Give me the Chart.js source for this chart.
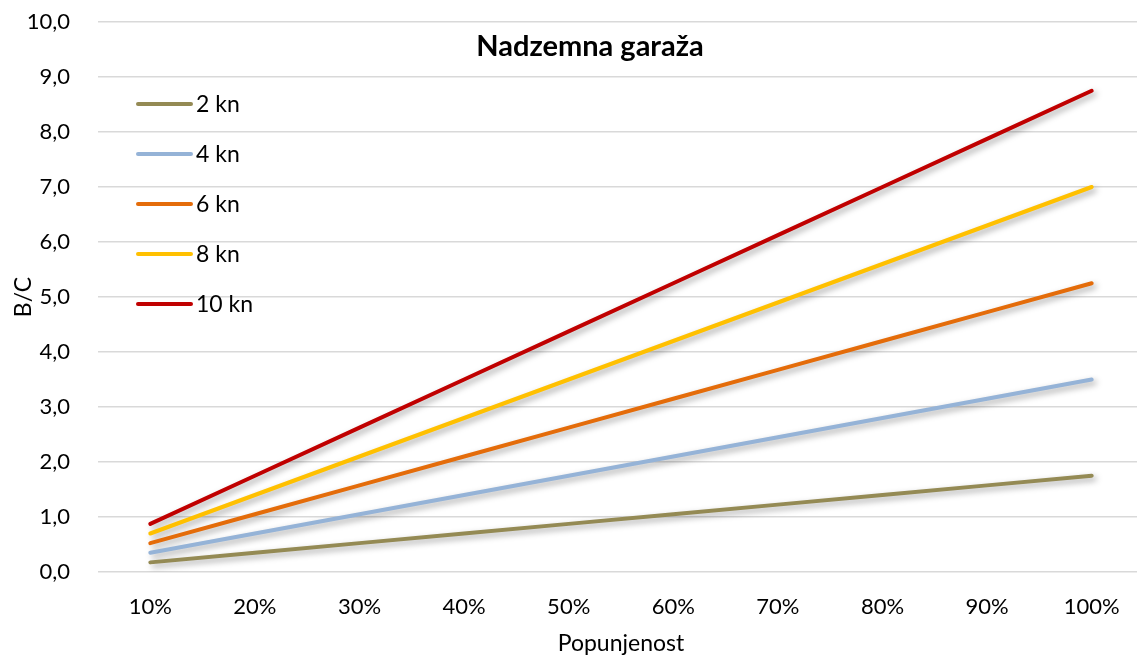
<!DOCTYPE html>
<html>
<head>
<meta charset="utf-8">
<script src="https://cdn.jsdelivr.net/npm/chart.js@4.4.1/dist/chart.umd.min.js"></script>
<style>
  html, body { margin: 0; padding: 0; background: #fff; overflow: hidden; }
  #wrap { width: 1145px; height: 657px; position: relative; }
</style>
</head>
<body>
<div id="wrap"><canvas id="c" width="1145" height="657"></canvas></div>
<script>
const categories = ['10%', '20%', '30%', '40%', '50%', '60%', '70%', '80%', '90%', '100%'];
const seriesNames = ['2 kn', '4 kn', '6 kn', '8 kn', '10 kn'];
const s2kn  = [0.175, 0.35, 0.525, 0.70, 0.875, 1.05, 1.225, 1.40, 1.575, 1.75];
const s4kn  = [0.35, 0.70, 1.05, 1.40, 1.75, 2.10, 2.45, 2.80, 3.15, 3.50];
const s6kn  = [0.525, 1.05, 1.575, 2.10, 2.625, 3.15, 3.675, 4.20, 4.725, 5.25];
const s8kn  = [0.70, 1.40, 2.10, 2.80, 3.50, 4.20, 4.90, 5.60, 6.30, 7.00];
const s10kn = [0.875, 1.75, 2.625, 3.50, 4.375, 5.25, 6.125, 7.00, 7.875, 8.75];
const seriesColors = ['#948A54', '#95B3D7', '#E46C0A', '#FFC000', '#C00000'];
const chartTitle = 'Nadzemna garaža';
const xTitle = 'Popunjenost';
const yTitle = 'B/C';

const FONT = 'Lato, "Open Sans", sans-serif';
const allSeries = [s2kn, s4kn, s6kn, s8kn, s10kn];

const shadowPlugin = {
  id: 'shadow',
  beforeDatasetDraw(chart) {
    const ctx = chart.ctx;
    ctx.save();
    ctx.shadowColor = 'rgba(0,0,0,0.35)';
    ctx.shadowBlur = 6;
    ctx.shadowOffsetX = 3;
    ctx.shadowOffsetY = 3;
  },
  afterDatasetDraw(chart) {
    chart.ctx.restore();
  }
};

const overlayPlugin = {
  id: 'overlay',
  afterDraw(chart) {
    const ctx = chart.ctx;
    const a = chart.chartArea;
    ctx.save();
    // title
    ctx.fillStyle = '#000';
    ctx.font = 'bold 29px ' + FONT;
    ctx.textAlign = 'center';
    ctx.textBaseline = 'middle';
    ctx.fillText(chartTitle, a.left + 492, a.top + 25);
    // legend
    ctx.font = '23px ' + FONT;
    ctx.textAlign = 'left';
    chart.data.datasets.forEach((ds, i) => {
      const y = a.top + 82 + i * 50;
      const x0 = a.left + 40;
      ctx.strokeStyle = ds.borderColor;
      ctx.lineWidth = 4;
      ctx.lineCap = 'round';
      ctx.beginPath();
      ctx.moveTo(x0, y);
      ctx.lineTo(x0 + 53, y);
      ctx.stroke();
      ctx.fillStyle = '#000';
      ctx.fillText(ds.label, x0 + 58, y + 1);
    });
    ctx.restore();
  }
};

new Chart(document.getElementById('c'), {
  type: 'line',
  data: {
    labels: categories,
    datasets: seriesNames.map((n, i) => ({
      label: n,
      data: allSeries[i],
      borderColor: seriesColors[i],
      backgroundColor: seriesColors[i],
      borderWidth: 4,
      borderCapStyle: 'round',
      pointRadius: 0,
      tension: 0,
      fill: false
    }))
  },
  options: {
    responsive: false,
    animation: false,
    layout: { padding: { top: 22, right: 1, left: 0, bottom: 0 } },
    plugins: {
      legend: { display: false },
      title: { display: false },
      tooltip: { enabled: false }
    },
    scales: {
      x: {
        offset: true,
        grid: { display: false, drawTicks: false },
        border: { display: false },
        ticks: { color: '#000', font: { family: FONT, size: 22 }, padding: 22, maxRotation: 0 },
        title: { display: true, text: xTitle, color: '#000', font: { family: FONT, size: 23 }, padding: { top: 12, bottom: 0 } },
        afterFit(s) { s.height = 85; }
      },
      y: {
        min: 0,
        max: 10,
        ticks: {
          stepSize: 1,
          color: '#000',
          font: { family: FONT, size: 22 },
          padding: 28,
          callback: v => v.toFixed(1).replace('.', ',')
        },
        grid: { color: '#D9D9D9', lineWidth: 1.5, drawTicks: false },
        border: { display: false },
        title: { display: true, text: yTitle, color: '#000', font: { family: FONT, size: 23 }, padding: { top: 10, bottom: 0 } },
        afterFit(s) { s.width = 98; s.paddingTop = 0; s.paddingBottom = 0; }
      }
    }
  },
  plugins: [shadowPlugin, overlayPlugin]
});
</script>
</body>
</html>
